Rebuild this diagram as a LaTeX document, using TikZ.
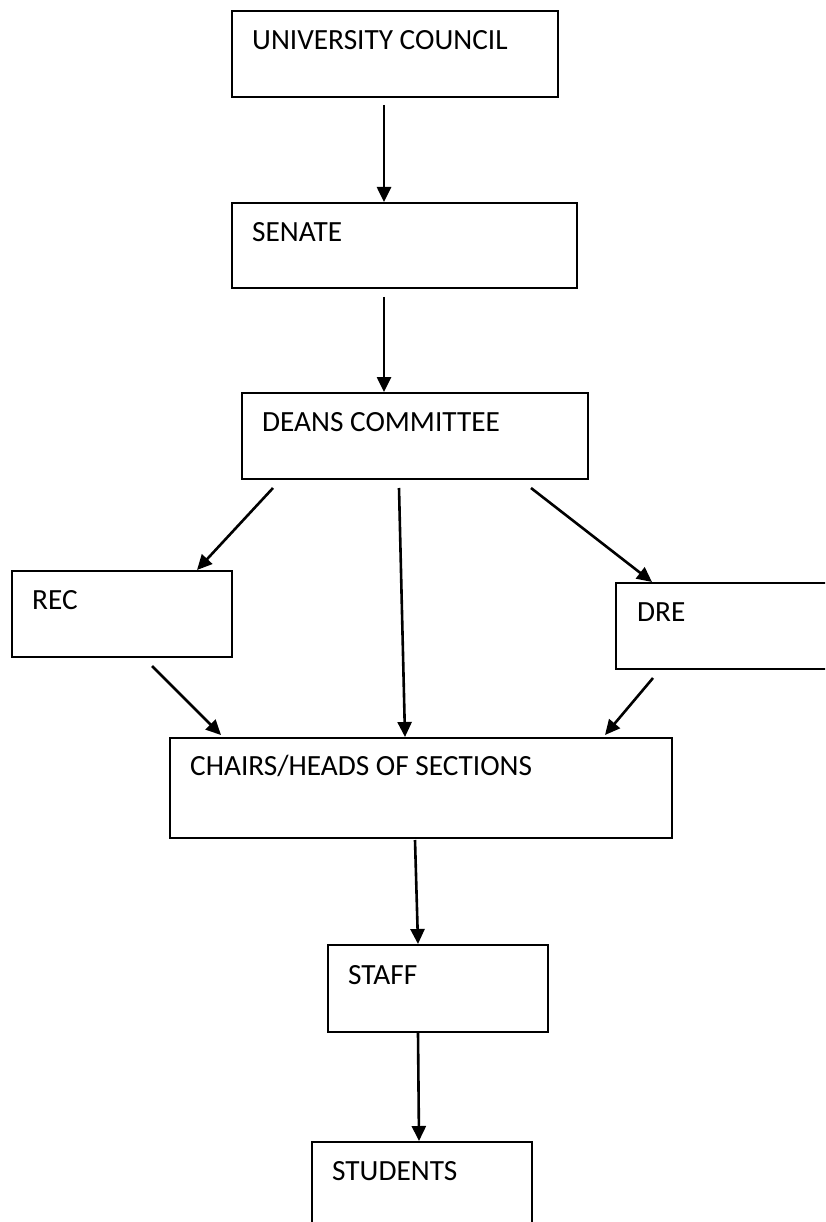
\documentclass[tikz,border=0pt]{standalone}
\usepackage{fontspec}
\setmainfont{Carlito}
\usetikzlibrary{arrows.meta}
\begin{document}
\begin{tikzpicture}[x=1pt,y=-1pt,
  box/.style={draw=black,line width=2pt,rectangle,inner sep=0pt,anchor=north west},
  lbl/.style={anchor=base west,inner sep=0pt,font=\fontsize{29.3pt}{35pt}\selectfont},
  arr/.style={line width=2.6pt,-{Triangle[length=15pt,width=14pt]}}]
\useasboundingbox (0,0) rectangle (825,1222);
\clip (0,0) rectangle (825,1222);
\fill[white] (0,0) rectangle (825,1222);
% boxes
\node[box,minimum width=326pt,minimum height=86pt] (uc) at (231,10) {};
\node[box,minimum width=345pt,minimum height=85pt] (senate) at (231,202) {};
\node[box,minimum width=346pt,minimum height=86pt] (deans) at (241,392) {};
\node[box,minimum width=220pt,minimum height=86pt] (rec) at (11,570) {};
\node[box,minimum width=230pt,minimum height=86pt] (dre) at (615,582) {};
\node[box,minimum width=502pt,minimum height=100pt] (chairs) at (169,737) {};
\node[box,minimum width=220pt,minimum height=87pt] (staff) at (327,944) {};
\node[box,minimum width=220pt,minimum height=100pt] (students) at (311,1141) {};
% labels
\node[lbl] (uct) at (252,50) {UNIVERSITY COUNCIL};
\node[lbl] (senatet) at (252,242) {SENATE};
\node[lbl] (deanst) at (262,431) {DEANS COMMITTEE};
\node[lbl] (rect) at (32,609) {REC};
\node[lbl] (dret) at (637,621) {DRE};
\node[lbl] (chairst) at (190,775) {CHAIRS/HEADS OF SECTIONS};
\node[lbl] (stafft) at (348,984) {STAFF};
\node[lbl] (studentst) at (332,1180) {STUDENTS};
% connectors
\draw[arr] ([shift={(-11,7)}]uc.south) -- ([xshift=-20.5pt]senate.north);
\draw[arr] ([shift={(-20.5,8)}]senate.south) -- ([xshift=-31pt]deans.north);
\draw[arr] ([shift={(32,8)}]deans.south west) -- ([shift={(186,0)}]rec.north west);
\draw[arr] ([shift={(158,8)}]deans.south west) -- ([shift={(236,0)}]chairs.north west);
\draw[arr] ([shift={(290,8)}]deans.south west) -- ([shift={(37,0)}]dre.north west);
\draw[arr] ([shift={(141,8)}]rec.south west) -- ([shift={(52,-2)}]chairs.north west);
\draw[arr] ([shift={(38,8)}]dre.south west) -- ([shift={(436,-2)}]chairs.north west);
\draw[arr] ([shift={(246,1)}]chairs.south west) -- ([shift={(91,0)}]staff.north west);
\draw[arr] ([shift={(91,0)}]staff.south west) -- ([shift={(108,0)}]students.north west);
\end{tikzpicture}
\end{document}
